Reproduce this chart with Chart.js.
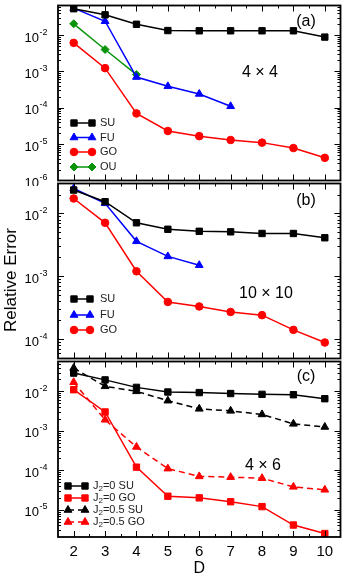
<!DOCTYPE html>
<html>
<head>
<meta charset="utf-8">
<script src="https://cdn.jsdelivr.net/npm/chart.js@4.4.1/dist/chart.umd.min.js"></script>
<style>
    body { margin: 0; background: #fff; }
    #wrap { position: relative; width: 346px; height: 578px; overflow: hidden; }
    canvas { position: absolute; left: 0; }
    #ytitle {
        position: absolute; left: 11px; top: 280px;
        transform: translate(-50%, -50%) rotate(-90deg);
        font: 17px "Liberation Sans", Arial, sans-serif; white-space: nowrap; color: #000;
    }
</style>
</head>
<body>
<div id="wrap">
    <canvas id="chart-a" width="346" height="186" style="top:0px"></canvas>
    <canvas id="chart-b" width="346" height="186" style="top:178px"></canvas>
    <canvas id="chart-c" width="346" height="222" style="top:356px"></canvas>
    <div id="ytitle">Relative Error</div>
</div>
<script>
// bond dimension D
const dims = [2, 3, 4, 5, 6, 7, 8, 9, 10];

// (a) 4x4
const suA = [0.053, 0.036, 0.0198, 0.0133, 0.0131, 0.0131, 0.0131, 0.0131, 0.0088];
const fuA = [0.055, 0.024, 7.0e-4, 3.9e-4, 2.4e-4, 1.1e-4];
const goA = [6.1e-3, 1.23e-3, 7.0e-5, 2.3e-5, 1.66e-5, 1.3e-5, 1.1e-5, 7.8e-6, 4.2e-6];
const ouA = [0.0204, 4.0e-3, 8.2e-4];

// (b) 10x10
const suB = [0.0236, 0.0154, 7.1e-3, 5.6e-3, 5.2e-3, 5.1e-3, 4.8e-3, 4.8e-3, 4.1e-3];
const fuB = [0.025, 0.0145, 3.6e-3, 2.07e-3, 1.5e-3];
const goB = [0.0173, 7.1e-3, 1.2e-3, 3.9e-4, 3.3e-4, 2.7e-4, 2.4e-4, 1.4e-4, 8.8e-5];

// (c) 4x6, J2 = 0 and J2 = 0.5
const su0C = [0.029, 0.0195, 0.0126, 9.6e-3, 9.3e-3, 8.8e-3, 8.4e-3, 8.2e-3, 6.5e-3];
const go0C = [0.011, 3.0e-3, 1.2e-4, 2.2e-5, 2.0e-5, 1.6e-5, 1.2e-5, 4.1e-6, 2.5e-6];
const su5C = [0.039, 0.0134, 0.010, 5.8e-3, 3.6e-3, 3.2e-3, 2.6e-3, 1.5e-3, 1.25e-3];
const go5C = [0.017, 1.9e-3, 3.9e-4, 1.1e-4, 7.0e-5, 6.7e-5, 6.3e-5, 3.8e-5, 3.2e-5];

const FONT = '"Liberation Sans", Arial, sans-serif';
const BLUE = '#0000ff';
const RED = '#ff0000';
const GREEN = '#0a940a';

function series(label, values, color, style, radius, dashed) {
    return {
        label: label,
        data: values.map((v, i) => ({ x: dims[i], y: v })),
        borderColor: color,
        backgroundColor: color,
        borderWidth: 1.5,
        borderDash: dashed ? [6, 4] : [],
        pointStyle: style,
        pointRadius: radius,
        pointBorderWidth: 1,
        pointBackgroundColor: color,
        pointBorderColor: color
    };
}

// Frame, inward ticks, 10^n labels, legend and notes
const panelPlugin = {
    id: 'panel',
    afterDraw(chart, args, opts) {
        const ctx = chart.ctx;
        const { left, right, top, bottom } = chart.chartArea;
        const xs = chart.scales.x;
        const ys = chart.scales.y;
        const off = opts.top;
        ctx.save();

        // ticks
        ctx.strokeStyle = '#000';
        ctx.lineWidth = 1;
        ctx.beginPath();
        for (let v = xs.min + 0.5; v < xs.max; v += 0.5) {
            const px = Math.round(xs.getPixelForValue(v)) + 0.5;
            const len = Number.isInteger(v) ? 6 : 3;
            ctx.moveTo(px, bottom); ctx.lineTo(px, bottom - len);
            ctx.moveTo(px, top); ctx.lineTo(px, top + len);
        }
        const e0 = Math.floor(Math.log10(ys.min));
        const e1 = Math.ceil(Math.log10(ys.max));
        for (let e = e0; e <= e1; e++) {
            for (let m = 1; m <= 9; m++) {
                const v = m * Math.pow(10, e);
                if (v < ys.min * 1.001 || v > ys.max * 0.999) continue;
                const py = Math.round(ys.getPixelForValue(v)) + 0.5;
                const len = m === 1 ? 6 : 3;
                ctx.moveTo(left, py); ctx.lineTo(left + len, py);
                ctx.moveTo(right, py); ctx.lineTo(right - len, py);
            }
        }
        ctx.stroke();

        // frame
        ctx.lineWidth = 1.8;
        ctx.strokeRect(left, top, right - left, bottom - top);

        // decade labels
        ctx.fillStyle = '#000';
        ctx.textBaseline = 'middle';
        ctx.textAlign = 'left';
        for (let e = e0; e <= e1; e++) {
            const v = Math.pow(10, e);
            if (v < ys.min * 0.999 || v > ys.max * 1.001) continue;
            const py = ys.getPixelForValue(v);
            const sup = '-' + Math.abs(e);
            ctx.font = '9px ' + FONT;
            const w2 = ctx.measureText(sup).width;
            ctx.font = '13px ' + FONT;
            const w1 = ctx.measureText('10').width;
            const x0 = 47 - w2 - w1;
            ctx.fillText('10', x0, py + 3);
            ctx.font = '9px ' + FONT;
            ctx.fillText(sup, x0 + w1 + 0.5, py - 3);
        }

        // legend
        const lg = opts.legend;
        chart.data.datasets.forEach((ds, i) => {
            const y = lg.ys[i] - off;
            ctx.strokeStyle = ds.borderColor;
            ctx.fillStyle = ds.borderColor;
            ctx.lineWidth = 1.5;
            ctx.setLineDash(ds.borderDash);
            ctx.beginPath();
            ctx.moveTo(lg.x0, y);
            ctx.lineTo(lg.x1, y);
            ctx.stroke();
            ctx.setLineDash([]);
            ctx.lineWidth = 1;
            const pt = { pointStyle: ds.pointStyle, radius: ds.pointRadius, rotation: 0, borderWidth: 1 };
            Chart.helpers.drawPoint(ctx, pt, lg.x0, y);
            Chart.helpers.drawPoint(ctx, pt, lg.x1, y);

            // label text, with '₂' drawn as a small lowered 2
            ctx.fillStyle = '#222';
            ctx.textBaseline = 'middle';
            ctx.textAlign = 'left';
            let x = lg.tx;
            ds.label.split('₂').forEach((part, k) => {
                if (k > 0) {
                    ctx.font = '8px ' + FONT;
                    ctx.fillText('2', x, y + 3);
                    x += ctx.measureText('2').width;
                }
                ctx.font = lg.size + 'px ' + FONT;
                ctx.fillText(part, x, y);
                x += ctx.measureText(part).width;
            });
        });

        // notes
        ctx.fillStyle = '#000';
        ctx.textAlign = 'center';
        ctx.font = '16px ' + FONT;
        opts.notes.forEach(n => ctx.fillText(n.text, n.x, n.y - off));

        ctx.restore();
    }
};

function makePanel(id, top, yMin, yMax, datasets, legend, notes, withAxis) {
    const ctx = document.getElementById(id);
    return new Chart(ctx, {
        type: 'line',
        data: { datasets: datasets },
        plugins: [panelPlugin],
        options: {
            responsive: false,
            animation: false,
            layout: { padding: { top: 4, bottom: withAxis ? 0 : 4, left: 0, right: 4 } },
            plugins: {
                legend: { display: false },
                tooltip: { enabled: false },
                panel: { top: top, legend: legend, notes: notes }
            },
            scales: {
                x: {
                    type: 'linear',
                    min: 1.5,
                    max: 10.5,
                    display: withAxis,
                    afterBuildTicks: s => { s.ticks = dims.map(v => ({ value: v })); },
                    afterFit: s => { s.height = withAxis ? 41 : 0; },
                    grid: { display: false, drawTicks: false },
                    border: { display: false },
                    ticks: { color: '#000', font: { family: FONT, size: 15 }, padding: 6, maxRotation: 0, autoSkip: false },
                    title: { display: true, text: 'D', color: '#000', font: { family: FONT, size: 16 }, padding: { top: 0, bottom: 0 } }
                },
                y: {
                    type: 'logarithmic',
                    min: yMin,
                    max: yMax,
                    afterFit: s => { s.width = 58; },
                    grid: { display: false },
                    border: { display: false },
                    ticks: { display: false }
                }
            }
        }
    });
}

makePanel('chart-a', 0, 1e-6, 0.065, [
    series('SU', suA, '#000', 'rect', 4.5),
    series('FU', fuA, BLUE, 'triangle', 4.5),
    series('GO', goA, RED, 'circle', 3.8),
    series('OU', ouA, GREEN, 'rectRot', 4)
], { x0: 74, x1: 92, tx: 100, size: 11, ys: [123, 137.5, 152, 167] },
   [{ text: '(a)', x: 306, y: 22 }, { text: '4 \u00d7 4', x: 260, y: 73 }], false);

makePanel('chart-b', 178, 4.9e-5, 0.030, [
    series('SU', suB, '#000', 'rect', 4.5),
    series('FU', fuB, BLUE, 'triangle', 4.5),
    series('GO', goB, RED, 'circle', 3.8)
], { x0: 74, x1: 90, tx: 100, size: 11, ys: [299, 315, 330] },
   [{ text: '(b)', x: 306, y: 201 }, { text: '10 \u00d7 10', x: 266, y: 294 }], false);

makePanel('chart-c', 356, 2.04e-6, 0.057, [
    series('J₂=0 SU', su0C, '#000', 'rect', 4.5),
    series('J₂=0 GO', go0C, RED, 'rect', 4.5),
    series('J₂=0.5 SU', su5C, '#000', 'triangle', 4.5, true),
    series('J₂=0.5 GO', go5C, RED, 'triangle', 4.5, true)
], { x0: 68, x1: 85, tx: 93, size: 11, ys: [486, 498, 510, 522] },
   [{ text: '(c)', x: 306, y: 377 }, { text: '4 \u00d7 6', x: 263, y: 466 }], true);
</script>
</body>
</html>
